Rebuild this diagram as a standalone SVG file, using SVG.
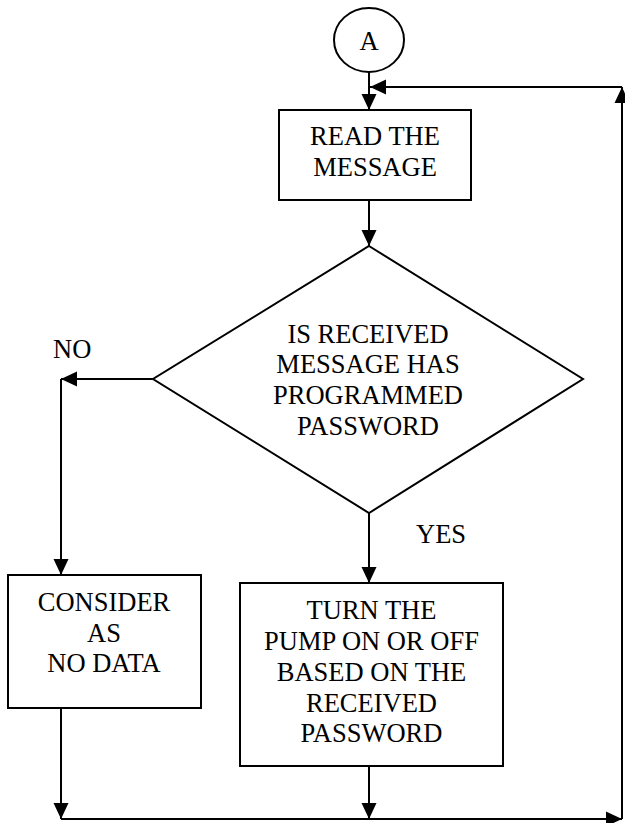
<svg xmlns="http://www.w3.org/2000/svg" width="625" height="823" viewBox="0 0 625 823">
<style>
.s{fill:#fff;stroke:#000;stroke-width:2}
.c{fill:none;stroke:#000;stroke-width:2}
.t{font-family:'Liberation Serif','DejaVu Serif','Times New Roman',serif;font-size:26.5px;fill:#000}
.m{text-anchor:middle}
</style>
<defs>
<marker id="ar" markerUnits="userSpaceOnUse" markerWidth="18" markerHeight="18" viewBox="0 0 18 18" refX="17" refY="9" orient="auto">
<path d="M1,1.5 L17,9 L1,16.5 Z" fill="#000"/>
</marker>
</defs>
<rect width="625" height="823" fill="#fff"/>
<g id="connectors">
<path class="c" d="M369,72 V110" marker-end="url(#ar)"/>
<path class="c" d="M369,200 V246" marker-end="url(#ar)"/>
<path class="c" d="M153,379 H61" marker-end="url(#ar)"/>
<path class="c" d="M61,379 V575" marker-end="url(#ar)"/>
<path class="c" d="M369,513 V583" marker-end="url(#ar)"/>
<path class="c" d="M61,708 V819" marker-end="url(#ar)"/>
<path class="c" d="M369,766 V819" marker-end="url(#ar)"/>
<path class="c" d="M61,819 H622" marker-end="url(#ar)"/>
<path class="c" d="M622,819 V87" marker-end="url(#ar)"/>
<path class="c" d="M622,87 H370" marker-end="url(#ar)"/>
</g>
<g id="labels" class="t" font-family="Liberation Serif, serif">
<text x="53" y="358">NO</text>
<text x="416" y="543">YES</text>
</g>
<g id="nodeA">
<ellipse class="s" cx="369" cy="40" rx="35" ry="32"/>
<text class="t m" font-family="Liberation Serif, serif" x="369" y="50">A</text>
</g>
<g id="read" class="t m" font-family="Liberation Serif, serif">
<rect class="s" x="279" y="110" width="192" height="90"/>
<text x="375" y="145">READ THE</text>
<text x="375" y="176">MESSAGE</text>
</g>
<g id="decision" class="t m" font-family="Liberation Serif, serif">
<polygon class="s" points="369,246 583,379 369,513 153,379"/>
<text x="368" y="343">IS RECEIVED</text>
<text x="368" y="373">MESSAGE HAS</text>
<text x="368" y="404">PROGRAMMED</text>
<text x="368" y="435">PASSWORD</text>
</g>
<g id="consider" class="t m" font-family="Liberation Serif, serif">
<rect class="s" x="8" y="575" width="193" height="133"/>
<text x="104" y="611">CONSIDER</text>
<text x="104" y="642">AS</text>
<text x="104" y="672">NO DATA</text>
</g>
<g id="turn" class="t m" font-family="Liberation Serif, serif">
<rect class="s" x="240" y="583" width="263" height="183"/>
<text x="371.5" y="619">TURN THE</text>
<text x="371.5" y="650">PUMP ON OR OFF</text>
<text x="371.5" y="681">BASED ON THE</text>
<text x="371.5" y="712">RECEIVED</text>
<text x="371.5" y="742">PASSWORD</text>
</g>
</svg>
